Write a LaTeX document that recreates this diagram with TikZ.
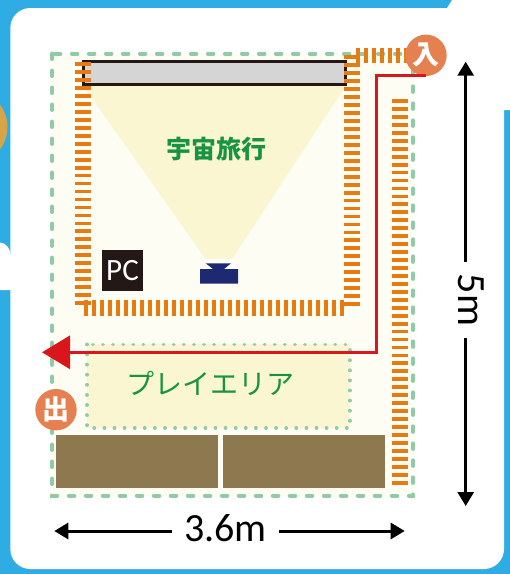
\documentclass[tikz,border=0pt]{standalone}
\usepackage{fontspec}
\setmainfont{Carlito}
\newfontfamily\cjk{Noto Sans CJK JP}
\usepackage{xcolor}
\usepackage{tikz}
\usetikzlibrary{arrows.meta,positioning}
\definecolor{planblue}{HTML}{2FACE3}
\definecolor{plangold}{HTML}{D7A548}
\definecolor{plancream}{HTML}{FEFDF3}
\definecolor{planbeam}{HTML}{FBF6D2}
\definecolor{plangreen}{HTML}{8FCBA4}
\definecolor{planorange}{HTML}{E77B13}
\definecolor{planred}{HTML}{D9161C}
\definecolor{planbrown}{HTML}{8E784F}
\definecolor{plannavy}{HTML}{1D2A72}
\definecolor{planblack}{HTML}{231815}
\definecolor{plangray}{HTML}{D5D5D5}
\definecolor{plantext}{HTML}{169443}
\definecolor{planmark}{HTML}{E58150}
\tikzset{
  wallhatch/.style={planorange, line width=3.8pt},
  dimarrow/.style={-{Triangle[length=14pt,width=16pt]}, line width=3pt, black},
  doormark/.style={circle, fill=planmark, text=white, minimum size=41.4pt, inner sep=0pt,
                   font=\cjk\bfseries\fontsize{27}{27}\selectfont},
  dimlabel/.style={font=\fontsize{40}{40}\selectfont, inner xsep=12pt, inner ysep=0pt}
}
\begin{document}
\begin{tikzpicture}[x=1pt, y=-1pt]
      \clip (0,0) rectangle (510,574);
      \fill[planblue] (0,0) rectangle (510,574);
      \fill[plangold] (-29.5,127) circle (37);
      \fill[white, rounded corners=20pt] (10.3,8) rectangle (504,569);
      \fill[white] (452,0) -- (510,0) -- (510,110) -- (504,110) -- (503,30) -- (447,30) -- (447,8) -- cycle;
      \fill[white] (0,242.5) .. controls (6,242.5) and (11,249) .. (11,258) -- (11,290) -- (0,290) -- cycle;

      \fill[plancream] (52,53.5) rectangle (413,495.7);
      \draw[plangreen, line width=4pt, line cap=round, dash pattern=on 5.5pt off 11.5pt]
            (52,53.5) rectangle (413,495.7);

      \fill[planbeam] (83,85.6) -- (346,85.6) -- (232,259) -- (205.7,259) -- cycle;
      \draw[planblack, fill=plangray, line width=3pt] (83.5,61.5) rectangle (345.5,84.5);

      \foreach \i in {0,...,30}
          \draw[wallhatch] (75,64+7.97*\i) -- (91,64+7.97*\i);
      \foreach \i in {0,...,31}
          \draw[wallhatch] (344,57.3+7.96*\i) -- (360,57.3+7.96*\i);
      \foreach \i in {0,...,48}
          \draw[wallhatch] (392,101+7.95*\i) -- (408,101+7.95*\i);
      \foreach \i in {0,...,32}
          \draw[wallhatch] (85.7+8*\i,300) -- (85.7+8*\i,315.7);
      \foreach \i in {0,...,6}
          \draw[wallhatch] (358+8*\i,47.7) -- (358+8*\i,63.3);

      \node[fill=planblack, text=white, minimum size=41pt, inner sep=0pt,
            font=\fontsize{31}{31}\selectfont] (pc) at (122.5,270.5) {PC};
      \fill[plannavy] (205.7,263.3) -- (231,263.3) -- (224,269) -- (238,269) -- (238,283.7)
            -- (200,283.7) -- (200,269) -- (213,269) -- cycle;

      \node[text=plantext, font=\cjk\bfseries\fontsize{25}{25}\selectfont] (show) at (216,149.5) {宇宙旅行};

      \draw[draw=plangreen, fill=planbeam, line width=3.6pt, line cap=round, dash pattern=on 0.2pt off 9.9pt]
            (87,344.3) rectangle (349.7,428);
      \node[text=plantext, font=\cjk\fontsize{28}{28}\selectfont] (play) at (210.5,383.5) {プレイエリア};

      \fill[planbrown] (56,435) rectangle (218,488);
      \fill[planbrown] (223,435) rectangle (385,488);

      \node[doormark] (in) at (426,55.3) {入};
      \node[doormark] (out) at (56,409.7) {出};

      \coordinate (redstart) at (425.7,75.7);
      \coordinate (redturn) at (376,352.3);
      \coordinate (redend) at (42,352.3);
      \draw[planred, line width=3pt, -{Triangle[length=28pt,width=33pt]}] (redstart) -| (redturn) -- (redend);

      \node[dimlabel] (width) at (225.5,528) {3.6m};
      \coordinate (widthL) at (54.3,531);
      \coordinate (widthR) at (404.7,531);
      \draw[dimarrow] (width.west |- widthL) -- (widthL);
      \draw[dimarrow] (width.east |- widthR) -- (widthR);

      \node[dimlabel, rotate=-90] (length) at (471,300) {5m};
      \coordinate (lengthT) at (465.7,61.7);
      \coordinate (lengthB) at (465.7,506);
      \draw[dimarrow] (length.west -| lengthT) -- (lengthT);
      \draw[dimarrow] (length.east -| lengthB) -- (lengthB);
\end{tikzpicture}
\end{document}
